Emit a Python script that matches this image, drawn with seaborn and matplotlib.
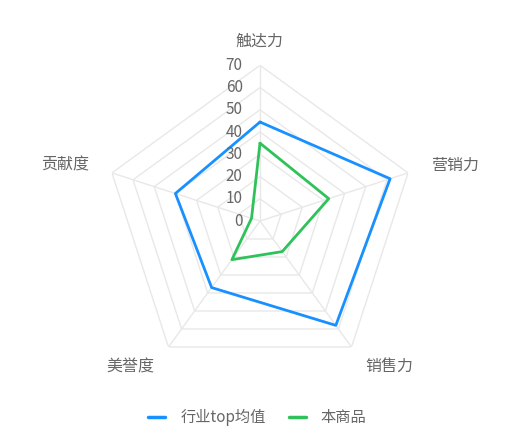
import numpy as np
import pandas as pd
import matplotlib
matplotlib.use("Agg")
import matplotlib.pyplot as plt
import seaborn as sns
from matplotlib.lines import Line2D

categories = ["触达力", "营销力", "销售力", "美誉度", "贡献度"]
series_names = ["行业top均值", "本商品"]
industry_top = [44.5, 61.5, 58, 37, 40]
this_product = [35, 32.5, 17, 21.5, 4]
radial_ticks = [0, 10, 20, 30, 40, 50, 60, 70]
colors = ["#1890ff", "#2fc25b"]

sns.set_theme(style="white")
plt.rcParams["font.family"] = ["Noto Sans CJK SC", "DejaVu Sans"]

fig = plt.figure(figsize=(5.12, 4.47), dpi=100)
cx, cy = 260 / 512, 1 - 221 / 447
rw, rh = 155.7 / 512, 155.7 / 447
ax = fig.add_axes([cx - rw, cy - rh, 2 * rw, 2 * rh], projection="polar")
ax.set_theta_offset(np.pi / 2)
ax.set_theta_direction(-1)
ax.set_ylim(0, 70)
ax.set_facecolor("none")
ax.spines["polar"].set_visible(False)
ax.grid(False)
ax.set_xticks([])
ax.set_yticks([])

n = len(categories)
angles = np.linspace(0, 2 * np.pi, n, endpoint=False)
closed = np.append(angles, angles[0])

grid_color = "#e8e8e8"
for t in radial_ticks[1:]:
    ax.plot(closed, [t] * (n + 1), color=grid_color, lw=1, zorder=1)
for a in angles:
    ax.plot([a, a], [0, radial_ticks[-1]], color=grid_color, lw=1, zorder=1)

rows = []
for name, vals in zip(series_names, [industry_top, this_product]):
    for i, a in enumerate(list(angles) + [angles[0] + 2 * np.pi]):
        rows.append({"theta": a, "r": vals[i % n], "series": name, "order": i})
df = pd.DataFrame(rows)
sns.lineplot(data=df, x="theta", y="r", hue="series", palette=colors,
             sort=False, estimator=None, units="series", lw=2, ax=ax,
             legend=False, zorder=3)
ax.set_xlabel("")
ax.set_ylabel("")
ax.set_ylim(0, 70)

for t in radial_ticks:
    ax.annotate(str(t), xy=(0, t), xytext=(-12.5, 0), textcoords="offset points",
                ha="right", va="center", fontsize=11, color="#666666")

label_r = 81
for a, lab in zip(angles, categories):
    s = np.sin(a)
    if abs(s) < 1e-6:
        ha = "center"
    elif s > 0:
        ha = "left"
    else:
        ha = "right"
    ax.text(a, label_r, lab, ha=ha, va="center", fontsize=11.5, color="#666666")

handles = [Line2D([0], [0], color=c, lw=2.5) for c in colors]
fig.legend(handles, series_names, loc="center", bbox_to_anchor=(0.503, 0.066),
           ncol=2, frameon=False, fontsize=11, handlelength=1.1,
           columnspacing=1.5, handletextpad=1.0, labelcolor="#666666")

fig.savefig("out.png", dpi=100)
